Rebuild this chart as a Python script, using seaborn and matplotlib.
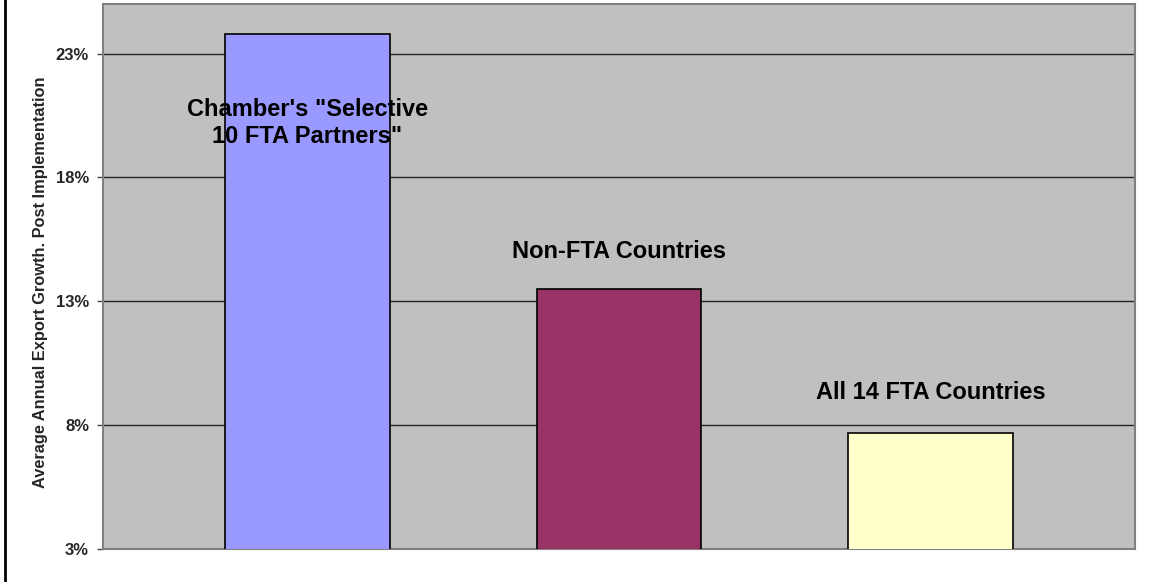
import pandas as pd
import seaborn as sns
import matplotlib.pyplot as plt
from matplotlib.lines import Line2D
from matplotlib.ticker import FuncFormatter

# data
groups = ['Chamber\'s "Selective\n10 FTA Partners"', 'Non-FTA Countries', 'All 14 FTA Countries']
growth = [23.8, 13.5, 7.7]
bar_colors = ['#9999FF', '#993366', '#FFFFCC']
label_y = [20.2, 15.0, 9.3]
y_ticks = [3, 8, 13, 18, 23]

df = pd.DataFrame({'group': groups, 'growth': growth})

sns.set_style('white')
plt.rcParams['font.family'] = ['Liberation Sans', 'DejaVu Sans']

fig = plt.figure(figsize=(11.51, 5.82), dpi=100)
ax = fig.add_axes([103 / 1151, 1 - 549 / 582, 1032 / 1151, 545 / 582])
ax.set_facecolor('#C0C0C0')

sns.barplot(data=df, x='group', y='growth', hue='group', palette=dict(zip(groups, bar_colors)),
            saturation=1, width=0.527, edgecolor='black', linewidth=1.2, legend=False,
            ax=ax, zorder=3)

ax.set_ylim(3, 25)
ax.set_xlim(-0.656, 2.656)
ax.set_yticks(y_ticks)
ax.yaxis.set_major_formatter(FuncFormatter(lambda v, p: f'{v:.0f}%'))
ax.yaxis.grid(True, color='#222222', linewidth=1.0, zorder=1)
ax.set_axisbelow(True)
ax.set_xticks([])
ax.set_xlabel('')
ax.set_ylabel('Average Annual Export Growth. Post Implementation', fontsize=11.8,
              fontweight='bold')
ax.yaxis.set_label_coords(-0.061, 0.49)
ax.yaxis.label.set_va('center')
ax.tick_params(axis='y', which='major', left=True, length=4.3, width=1, color='#444444',
               labelsize=12, pad=5.7)
for t in ax.get_yticklabels():
    t.set_fontweight('bold')

for side in ['left', 'bottom', 'top', 'right']:
    ax.spines[side].set_visible(True)
    ax.spines[side].set_color('#808080')
    ax.spines[side].set_linewidth(1.5)

# category labels placed as annotations in the plot area
for i, (name, ly) in enumerate(zip(groups, label_y)):
    ax.text(i, ly, name, ha='center', va='center', fontsize=17, fontweight='bold',
            color='black', zorder=5)

# left border of the figure
fig.add_artist(Line2D([5 / 1151, 5 / 1151], [0, 1], color='black', linewidth=2,
                      transform=fig.transFigure))

fig.savefig('out.png', dpi=100, facecolor='white')
